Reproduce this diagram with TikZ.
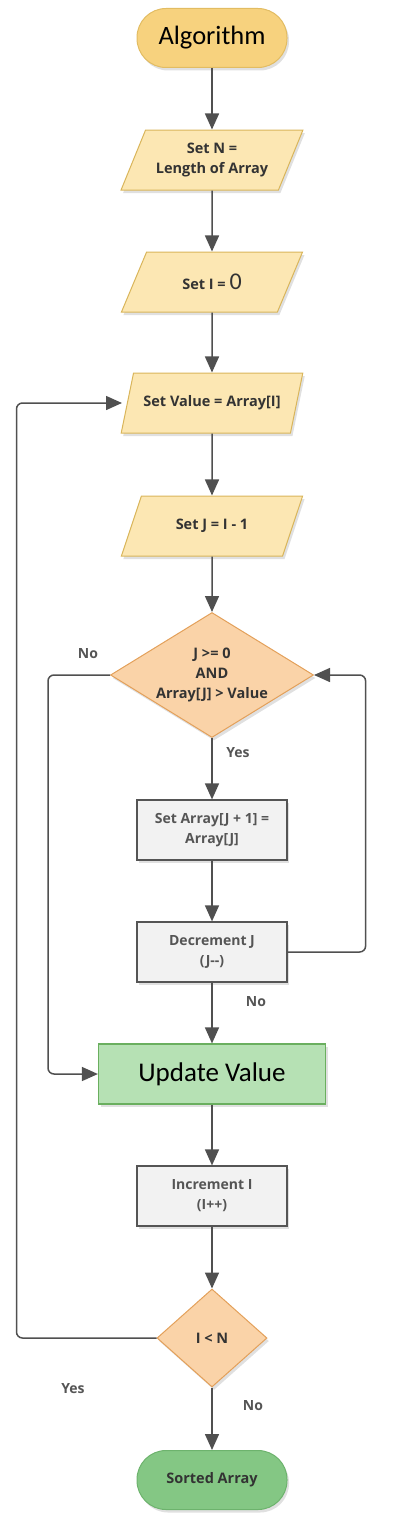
\documentclass[tikz,border=0pt]{standalone}
\usepackage{fontspec}
\setmainfont{Open Sans}
\newfontfamily\calib{Carlito}
\usetikzlibrary{shapes.geometric,arrows.meta,shadows}
\definecolor{lineC}{HTML}{505050}
\definecolor{algFill}{HTML}{F7D27E}
\definecolor{algDraw}{HTML}{E2BC62}
\definecolor{parFill}{HTML}{FCE7B3}
\definecolor{parDraw}{HTML}{D9B55A}
\definecolor{diaFill}{HTML}{FAD3A8}
\definecolor{diaDraw}{HTML}{E3A05A}
\definecolor{boxFill}{HTML}{F2F2F2}
\definecolor{boxDraw}{HTML}{555555}
\definecolor{uvFill}{HTML}{B6E1B4}
\definecolor{uvDraw}{HTML}{6AAF5F}
\definecolor{srtFill}{HTML}{84C784}
\definecolor{srtDraw}{HTML}{6DB36D}
\definecolor{txtDark}{HTML}{333333}
\definecolor{txtGray}{HTML}{555555}
\tikzset{
  shad/.style={drop shadow={shadow xshift=2pt,shadow yshift=-3pt,opacity=.12,fill=black}},
  term/.style={shad,draw=#1,line width=1pt,minimum width=150pt,minimum height=59pt,rounded corners=29pt,align=center},
  para/.style={shad,trapezium,trapezium left angle=63,trapezium right angle=117,trapezium stretches=true,
    minimum width=182pt,minimum height=60pt,fill=parFill,draw=parDraw,line width=1pt,align=center,
    font=\bfseries\fontsize{14.5}{20}\selectfont,text=txtDark,inner xsep=0pt},
  dia/.style={shad,diamond,fill=diaFill,draw=diaDraw,line width=1pt,align=center,inner sep=0pt,
    font=\bfseries\fontsize{14.5}{20}\selectfont,text=txtDark},
  procbox/.style={shad,rectangle,fill=boxFill,draw=boxDraw,line width=1.2pt,minimum width=150pt,minimum height=60pt,
    align=center,font=\bfseries\fontsize{14}{20}\selectfont,text=txtGray},
  arr/.style={draw=lineC,line width=1.5pt,-{Triangle[length=16pt,width=14pt]}},
  lbl/.style={font=\bfseries\fontsize{14}{16}\selectfont,text=txtGray}
}
\begin{document}
\begin{tikzpicture}[x=1pt,y=-1pt]
\useasboundingbox (0,0) rectangle (420,1520);
\node[term=algDraw,fill=algFill,font=\calib\fontsize{26.5}{30}\selectfont] (alg) at (212,38) {Algorithm};
\node[para] (setn) at (212,160) {Set N =\\Length of Array};
\node[para] (seti) at (212,282) {Set I = {\calib\mdseries\fontsize{24}{24}\selectfont 0}};
\node[para] (setv) at (212,403) {Set Value = Array[I]};
\node[para] (setj) at (212,526) {Set J = I - 1};
\node[dia,minimum width=203pt,minimum height=125pt,aspect=1.62] (d1) at (212,675) {J >= 0\\AND\\Array[J] > Value};
\node[procbox] (sa) at (212,830) {Set Array[J + 1] =\\Array[J]};
\node[procbox] (dj) at (212,952) {Decrement J\\(J{-}{-})};
\node[shad,rectangle,fill=uvFill,draw=uvDraw,line width=1.2pt,minimum width=227pt,minimum height=60pt,
  font=\calib\fontsize{27}{30}\selectfont] (uv) at (212,1074) {Update Value};
\node[procbox] (inc) at (212,1196) {Increment I\\(I{+}{+})};
\node[dia,minimum width=110pt,minimum height=98pt,aspect=1.12] (d2) at (212,1338) {I < N};
\node[term=srtDraw,fill=srtFill,font=\bfseries\fontsize{14.5}{16}\selectfont,text=txtDark] (srt) at (212,1480) {Sorted Array};
\coordinate (svin) at (122,403);
\draw[arr] (alg) -- (setn);
\draw[arr] (setn) -- (seti);
\draw[arr] (seti) -- (setv);
\draw[arr] (setv) -- (setj);
\draw[arr] (setj) -- (d1);
\draw[arr] (d1) -- (sa);
\draw[arr] (sa) -- (dj);
\draw[arr] (dj) -- (uv);
\draw[arr] (uv) -- (inc);
\draw[arr] (inc) -- (d2);
\draw[arr] (d2) -- (srt);
\draw[arr,rounded corners=6pt] (d1.west) -- ++(-62,0) |- (uv.west);
\draw[arr,rounded corners=6pt] (dj.east) -- ++(78,0) |- (d1.east);
\draw[arr,rounded corners=6pt] (d2.west) -- ++(-140,0) |- (svin);
\node[lbl] (l1) at (88,654) {No};
\node[lbl] (l2) at (238,753) {Yes};
\node[lbl] (l3) at (256,1002) {No};
\node[lbl] (l4) at (73,1389) {Yes};
\node[lbl] (l5) at (253,1406) {No};
\end{tikzpicture}
\end{document}
